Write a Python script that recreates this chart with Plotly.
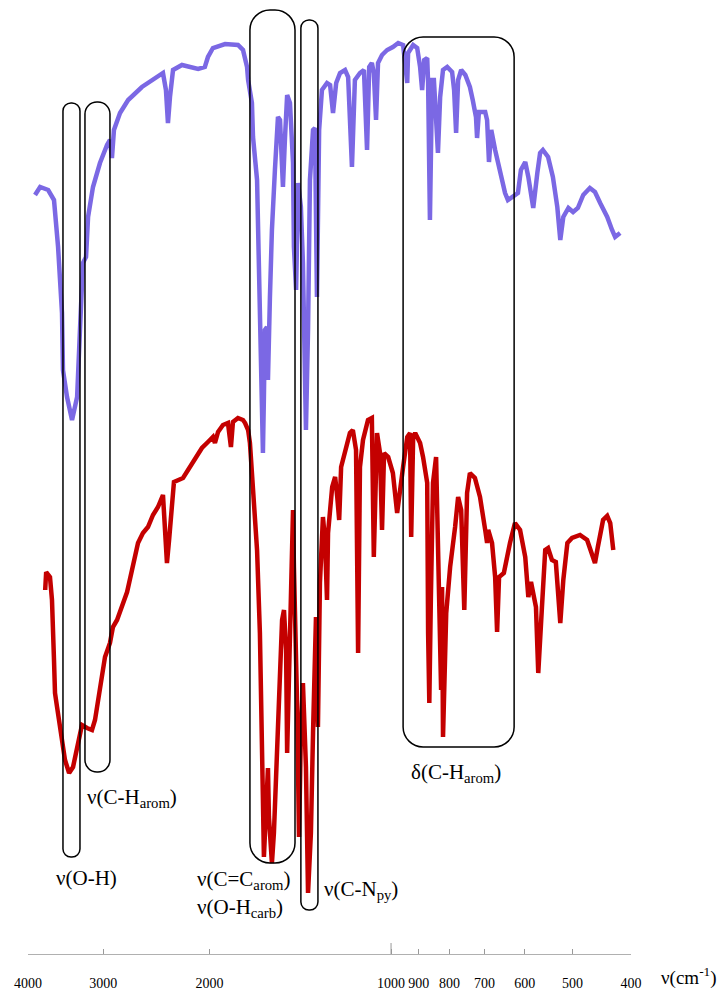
import numpy as np
import plotly.graph_objects as go

# ---------------- data (wavenumber in cm-1, transmittance in arbitrary units) ----------------
purple_wn = [3894, 3819, 3703, 3622, 3566, 3513, 3500, 3446, 3381, 3316, 3280, 3243, 3205, 3180,
             3121, 3039, 2958, 2925, 2903, 2881, 2815, 2729, 2589, 2463, 2389, 2362, 2344, 2326,
             2299, 2222, 2139, 2089, 2036, 2012, 1974, 1885, 1794, 1760, 1733, 1726, 1701, 1694,
             1668, 1662, 1650, 1637, 1631, 1625, 1619, 1606, 1600, 1588, 1576, 1558, 1540, 1528,
             1516, 1511, 1499, 1487, 1471, 1454, 1449, 1437, 1426, 1411, 1400, 1384, 1373, 1363,
             1347, 1337, 1327, 1316, 1302, 1277, 1262, 1248, 1233, 1215, 1192, 1178, 1161, 1148,
             1126, 1109, 1096, 1087, 1076, 1068, 1059, 1051, 1035, 1015, 993, 973, 955, 940, 937,
             919, 905, 895, 888, 881, 871, 868, 862, 855, 849, 842, 836, 829, 820, 807, 792, 786,
             780, 774, 765, 753, 740, 732, 723, 720, 715, 698, 693, 688, 682, 672, 660, 647, 640,
             628, 616, 609, 599, 592, 586, 581, 572, 566, 560, 549, 539, 530, 524, 518, 508, 499,
             490, 480, 468, 459, 450, 438, 430, 425, 417]
purple_t = [759, 767, 764, 754, 707, 641, 584, 557, 534, 557, 624, 691, 697, 737,
            767, 791, 809, 814, 796, 824, 841, 854, 867, 876, 881, 864, 831, 857,
            884, 889, 887, 885, 887, 897, 906, 910, 909, 904, 887, 874, 851, 817,
            774, 724, 657, 557, 501, 557, 624, 627, 574, 657, 724, 784, 837, 834,
            791, 767, 817, 859, 851, 791, 707, 664, 771, 747, 691, 524, 624, 774,
            824, 826, 657, 824, 864, 871, 869, 841, 871, 881, 884, 877, 787, 874,
            881, 884, 804, 887, 891, 881, 834, 891, 899, 904, 907, 911, 909, 871, 901,
            909, 906, 887, 864, 894, 896, 871, 734, 874, 874, 841, 801, 857, 884, 887, 882, 864,
            821, 874, 884, 879, 867, 854, 837, 816, 842, 842, 834, 792, 824, 804, 781, 761, 754,
            757, 761, 784, 792, 777, 757, 746, 781, 801, 804, 797, 777, 747, 714, 737, 746, 742,
            746, 759, 766, 762, 751, 737, 724, 717, 721]

red_wn = [3746, 3732, 3678, 3650, 3622, 3608, 3580, 3540, 3473, 3419, 3368, 3303, 3255, 3193,
          3133, 3097, 3039, 2981, 2925, 2892, 2847, 2794, 2740, 2689, 2628, 2579, 2530, 2482,
          2435, 2389, 2371, 2353, 2334, 2308, 2291, 2213, 2171, 2114, 2059, 2012, 1974, 1959,
          1936, 1900, 1864, 1843, 1829, 1794, 1760, 1746, 1726, 1714, 1694, 1668, 1650, 1637,
          1631, 1625, 1612, 1600, 1594, 1576, 1564, 1546, 1528, 1516, 1505, 1493, 1487, 1476,
          1465, 1454, 1449, 1432, 1421, 1411, 1400, 1384, 1373, 1358, 1347, 1332, 1322, 1312,
          1297, 1287, 1277, 1272, 1252, 1238, 1228, 1219, 1210, 1192, 1170, 1157, 1143, 1134,
          1126, 1113, 1092, 1076, 1068, 1055, 1043, 1035, 1027, 1011, 993, 977, 966, 955, 940,
          930, 926, 919, 912, 895, 885, 871, 868, 864, 859, 852, 842, 839, 826, 823, 820, 810,
          798, 783, 774, 765, 756, 748, 740, 726, 712, 698, 693, 690, 680, 672, 667, 662, 650,
          635, 623, 611, 599, 592, 586, 575, 570, 562, 555, 549, 541, 533, 524, 518, 510, 501,
          486, 473, 464, 459, 454, 445, 438, 433, 428]
red_t = [364, 382, 377, 354, 294, 261, 247, 227, 194, 181, 187, 211, 229, 226,
         224, 234, 264, 297, 311, 327, 334, 347, 362, 384, 411, 421, 427, 439,
         447, 459, 427, 391, 414, 447, 472, 476, 484, 497, 506, 512, 517, 511,
         522, 529, 531, 507, 532, 536, 534, 531, 524, 511, 471, 404, 321, 237,
         154, 97, 154, 186, 137, 91, 121, 204, 287, 334, 344, 304, 201, 287,
         397, 444, 387, 254, 117, 221, 271, 187, 61, 121, 221, 337, 227, 371,
         437, 414, 354, 421, 467, 477, 457, 434, 487, 504, 521, 524, 504, 301,
         487, 514, 534, 536, 397, 521, 501, 424, 501, 497, 481, 441, 461, 487, 517,
         521, 417, 517, 521, 511, 497, 471, 321, 251, 354, 471, 497, 454, 264, 367, 217, 341,
         387, 427, 457, 444, 344, 461, 481, 476, 457, 424, 411, 424, 411, 377, 322, 377, 381,
         411, 431, 424, 397, 357, 372, 347, 281, 347, 404, 406, 394, 392, 331, 374, 411, 416,
         419, 414, 401, 391, 407, 434, 438, 431, 404]

tick_vals = [4000, 3000, 2000, 1000, 900, 800, 700, 600, 500, 400]
tick_text = [str(v) for v in tick_vals]

# band boxes: left wavenumber, right wavenumber, top T, bottom T, corner radius px
boxes = [
    (3500, 3280, 851, 97, 8),
    (3218, 2925, 852, 182, 12),
    (1714, 1443, 944, 91, 20),
    (1411, 1322, 934, 44, 8),
    (955, 625, 917, 207, 20),
]

# band labels: text, wavenumber position, T position, horizontal anchor
labels = [
    ("ν(O-H)", 3200, 76, "center"),
    ("ν(C-H<sub>arom</sub>)", 3218, 156, "left"),
    ("ν(C=C<sub>arom</sub>)", 2114, 74, "left"),
    ("ν(O-H<sub>carb</sub>)", 2114, 46, "left"),
    ("ν(C-N<sub>py</sub>)", 1302, 64, "left"),
    ("δ(C-H<sub>arom</sub>)", 932, 181, "left"),
]

# ---------------- layout constants ----------------
W, H = 719, 982
ML, MR, MT, MB = 20, 96, 0, 36
X_HI, X_LO = 4000, 400
Y_MAX = 946
PLOT_W = W - ML - MR
PLOT_H = H - MT - MB
FONT = "Liberation Serif"

def xp(nu):
    return (np.log10(X_HI) - np.log10(nu)) / (np.log10(X_HI) - np.log10(X_LO))

def rounded_rect(nl, nr, yt, yb, r):
    x0, x1 = xp(nl), xp(nr)
    rx, ry = r / PLOT_W, r * Y_MAX / PLOT_H
    k = 0.5523
    p = []
    p.append(f"M {x0+rx},{yt}")
    p.append(f"L {x1-rx},{yt}")
    p.append(f"C {x1-rx+k*rx},{yt} {x1},{yt-ry+k*ry} {x1},{yt-ry}")
    p.append(f"L {x1},{yb+ry}")
    p.append(f"C {x1},{yb+ry-k*ry} {x1-rx+k*rx},{yb} {x1-rx},{yb}")
    p.append(f"L {x0+rx},{yb}")
    p.append(f"C {x0+rx-k*rx},{yb} {x0},{yb+ry-k*ry} {x0},{yb+ry}")
    p.append(f"L {x0},{yt-ry}")
    p.append(f"C {x0},{yt-ry+k*ry} {x0+rx-k*rx},{yt} {x0+rx},{yt}")
    p.append("Z")
    return " ".join(p)

fig = go.Figure()
fig.add_trace(go.Scatter(x=purple_wn, y=purple_t, mode="lines",
                         line=dict(color="#7b68e4", width=4.5), hoverinfo="skip", showlegend=False))
fig.add_trace(go.Scatter(x=red_wn, y=red_t, mode="lines",
                         line=dict(color="#c40000", width=4.5), hoverinfo="skip", showlegend=False))

shapes = []
for nl, nr, yt, yb, r in boxes:
    shapes.append(dict(type="path", xref="paper", yref="y", path=rounded_rect(nl, nr, yt, yb, r),
                       line=dict(color="black", width=1.5), layer="above"))
# longer tick at 1000
shapes.append(dict(type="line", xref="paper", yref="y", x0=xp(1000), x1=xp(1000), y0=0, y1=11,
                   line=dict(color="#999999", width=1)))

annotations = []
for text, nu, y, anchor in labels:
    annotations.append(dict(text=text, x=xp(nu), y=y, xref="paper", yref="y",
                            xanchor=anchor, yanchor="middle", showarrow=False,
                            font=dict(family=FONT, size=21, color="black")))
annotations.append(dict(text="ν(cm<sup>-1</sup>)", x=1 + 28 / PLOT_W, y=-22 / PLOT_H,
                        xref="paper", yref="paper",
                        xanchor="left", yanchor="middle", showarrow=False,
                        font=dict(family=FONT, size=19, color="black")))

fig.update_layout(
    width=W, height=H,
    margin=dict(l=ML, r=MR, t=MT, b=MB, pad=0),
    paper_bgcolor="white", plot_bgcolor="white",
    shapes=shapes, annotations=annotations,
    xaxis=dict(type="log", range=[np.log10(X_HI), np.log10(X_LO)],
               tickvals=tick_vals, ticktext=tick_text,
               ticks="inside", ticklen=5, tickcolor="#999999", tickwidth=1,
               showline=True, linecolor="#b0b0b0", linewidth=1,
               showgrid=False, zeroline=False,
               ticklabelstandoff=16,
               tickfont=dict(family=FONT, size=14, color="black")),
    yaxis=dict(visible=False, range=[0, Y_MAX], fixedrange=True),
    showlegend=False,
)

fig.write_html("out.html")
